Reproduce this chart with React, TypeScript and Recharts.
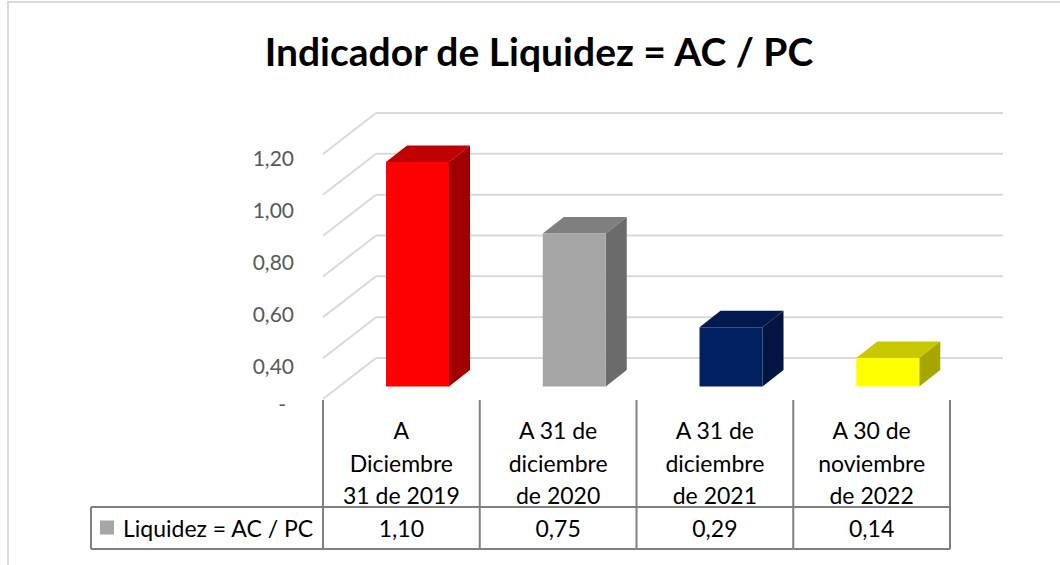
import { BarChart, Bar, XAxis, YAxis, CartesianGrid, Cell } from 'recharts';

const categories = [
  'A\nDiciembre\n31 de 2019',
  'A 31 de\ndiciembre\nde 2020',
  'A 31 de\ndiciembre\nde 2021',
  'A 30 de\nnoviembre\nde 2022',
];
const liquidez = [1.1, 0.75, 0.29, 0.14];
const yTicks = [0, 0.2, 0.4, 0.6, 0.8, 1.0, 1.2];
const seriesName = 'Liquidez = AC / PC';

const frontColors = ['#ff0000', '#a6a6a6', '#002060', '#ffff00'];
const topColors = ['#c00000', '#7f7f7f', '#001a4d', '#c8c800'];
const sideColors = ['#a00000', '#6b6b6b', '#001540', '#a6a600'];

const data = categories.map((c, i) => ({ name: c, value: liquidez[i] }));

const FONT = 'Lato, "Open Sans", sans-serif';
const W = 1060;
const H = 565;
// plot = plane of the bar fronts
const PLOT_LEFT = 339;
const PLOT_RIGHT = 966;
const PLOT_TOP = 141.5;
const PLOT_BOTTOM = 386.5;
const BAND = (PLOT_RIGHT - PLOT_LEFT) / categories.length;
// 3d offsets
const FRONT_DX = -16;
const FRONT_DY = 12.5;
const BACK_DX = 37;
const BACK_DY = -28.5;
const BAR_DX = 21;
const BAR_DY = 16.5;

const fmt = (v: number) => v.toFixed(2).replace('.', ',');

function GridLine(props: any) {
  const { x1, x2, y1 } = props;
  return (
    <g key={props.key}>
      <line x1={x1 + BACK_DX} x2={x2 + BACK_DX} y1={y1 + BACK_DY} y2={y1 + BACK_DY} stroke="#d9d9d9" strokeWidth={2} />
      <line x1={x1 + FRONT_DX} x2={x1 + BACK_DX} y1={y1 + FRONT_DY} y2={y1 + BACK_DY} stroke="#d9d9d9" strokeWidth={2} />
    </g>
  );
}

function Bar3D(props: any) {
  const { x, y, width, height, index } = props;
  const r = x + width;
  const b = y + height;
  return (
    <g>
      <polygon points={`${x},${y} ${x + BAR_DX},${y - BAR_DY} ${r + BAR_DX},${y - BAR_DY} ${r},${y}`} fill={topColors[index]} />
      <polygon points={`${r},${y} ${r + BAR_DX},${y - BAR_DY} ${r + BAR_DX},${b - BAR_DY} ${r},${b}`} fill={sideColors[index]} />
      <rect x={x} y={y} width={width} height={height} fill={frontColors[index]} />
    </g>
  );
}

function YTick(props: any) {
  const { x, y, payload } = props;
  const v = payload.value;
  if (Math.abs(v - 0.2) < 1e-6) return null;
  if (v === 0) {
    return (
      <text x={x - 53} y={y + 16.5} textAnchor="end" dominantBaseline="central" fontFamily={FONT} fontSize={21} fill="#595959">
        -
      </text>
    );
  }
  const dy = 15.5 + ((1.2 - v) / 0.2) * 11.2;
  return (
    <text x={x - 45} y={y + dy} textAnchor="end" dominantBaseline="central" fontFamily={FONT} fontSize={21} fill="#595959">
      {fmt(v)}
    </text>
  );
}

function XTick(props: any) {
  const { x, y, payload, index } = props;
  const cx = x + FRONT_DX;
  const left = cx - BAND / 2;
  const right = cx + BAND / 2;
  const lines = String(payload.value).split('\n');
  const lineColor = '#808080';
  return (
    <g>
      {index === 0 && (
        <g>
          <line x1={left} x2={left} y1={y + 13.5} y2={y + 162.5} stroke={lineColor} strokeWidth={2} />
          <line x1={91} x2={left} y1={y + 120.5} y2={y + 120.5} stroke={lineColor} strokeWidth={2} />
          <line x1={91} x2={left} y1={y + 162.5} y2={y + 162.5} stroke={lineColor} strokeWidth={2} />
          <line x1={91} x2={91} y1={y + 120.5} y2={y + 162.5} stroke={lineColor} strokeWidth={2} />
          <rect x={100} y={y + 134} width={14} height={14} fill="#a6a6a6" />
          <text x={123} y={y + 141.5} dominantBaseline="central" fontFamily={FONT} fontSize={23} fill="#000">
            {seriesName}
          </text>
        </g>
      )}
      <line x1={right} x2={right} y1={y + 13.5} y2={y + 162.5} stroke={lineColor} strokeWidth={2} />
      <line x1={left} x2={right} y1={y + 120.5} y2={y + 120.5} stroke={lineColor} strokeWidth={2} />
      <line x1={left} x2={right} y1={y + 162.5} y2={y + 162.5} stroke={lineColor} strokeWidth={2} />
      {lines.map((l, i) => (
        <text key={i} x={cx} y={y + 43.5 + i * 32.5} textAnchor="middle" dominantBaseline="central" fontFamily={FONT} fontSize={23} fill="#000">
          {l}
        </text>
      ))}
      <text x={cx} y={y + 141.5} textAnchor="middle" dominantBaseline="central" fontFamily={FONT} fontSize={23} fill="#000">
        {fmt(liquidez[index])}
      </text>
    </g>
  );
}

export default function App() {
  return (
    <div style={{ position: 'absolute', left: 0, top: 0, width: W, height: H, background: '#fff' }}>
      <div
        style={{
          position: 'absolute',
          left: 7,
          top: 1,
          width: W - 7,
          height: H - 1,
          borderTop: '2px solid #d9d9d9',
          borderLeft: '2px solid #d9d9d9',
          boxSizing: 'border-box',
        }}
      />
      <div
        style={{
          position: 'absolute',
          left: 9,
          width: W,
          top: 26,
          textAlign: 'center',
          fontFamily: FONT,
          fontWeight: 700,
          fontSize: 39,
          color: '#000',
          lineHeight: '50px',
        }}
      >
        Indicador de Liquidez = AC / PC
      </div>
      <div style={{ position: 'absolute', left: 0, top: 0 }}>
        <BarChart
          width={W}
          height={H}
          data={data}
          barCategoryGap="30%"
          margin={{ top: PLOT_TOP, left: PLOT_LEFT - 60, right: W - PLOT_RIGHT, bottom: H - PLOT_BOTTOM - 160 }}
        >
          <CartesianGrid vertical={false} horizontal={(p: any) => <GridLine {...p} />} />
          <XAxis
            dataKey="name"
            height={160}
            axisLine={false}
            tickLine={false}
            tickSize={0}
            tickMargin={0}
            interval={0}
            tick={(p: any) => <XTick {...p} />}
          />
          <YAxis
            width={60}
            domain={[0, 1.2]}
            ticks={yTicks}
            axisLine={false}
            tickLine={false}
            tickSize={0}
            tickMargin={0}
            interval={0}
            tick={(p: any) => <YTick {...p} />}
          />
          <Bar dataKey="value" name={seriesName} isAnimationActive={false} shape={(p: any) => <Bar3D {...p} />}>
            {data.map((_, i) => (
              <Cell key={i} fill={frontColors[i]} />
            ))}
          </Bar>
        </BarChart>
      </div>
    </div>
  );
}
